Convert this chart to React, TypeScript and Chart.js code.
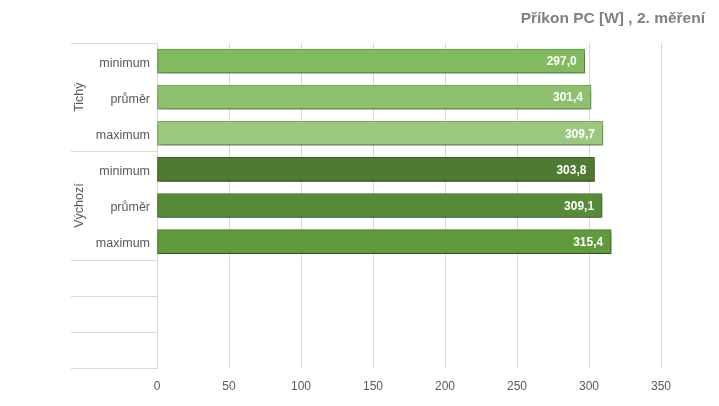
import React, { useEffect, useRef } from "react";
import { Chart, registerables } from "chart.js";

Chart.register(...registerables);

const title = "Příkon PC [W] , 2. měření";
const categories = ["minimum", "průměr", "maximum", "minimum", "průměr", "maximum", "", "", ""];
const groups = ["Tichý", "Tichý", "Tichý", "Výchozí", "Výchozí", "Výchozí", "", "", ""];
const values: (number | null)[] = [297.0, 301.4, 309.7, 303.8, 309.1, 315.4, null, null, null];
const barColors = ["#82ba60", "#8dc16e", "#9ac87e", "#4f7a31", "#588b37", "#5f9a3b", "#82ba60", "#82ba60", "#82ba60"];
const borderColors = ["#679b48", "#70a553", "#7cad62", "#3c6024", "#44702a", "#4b7e2d", "#679b48", "#679b48", "#679b48"];
const xTicksMax = 350;
const xStep = 50;

const GRID = "#d9d9d9";
const TEXT = "#595959";
const FONT = "'Liberation Sans', Arial, sans-serif";

const shadowPlugin = {
  id: "barShadow",
  beforeDatasetDraw(chart: any) {
    const ctx = chart.ctx;
    ctx.save();
    ctx.shadowColor = "rgba(0,0,0,0.45)";
    ctx.shadowBlur = 5;
    ctx.shadowOffsetX = 1;
    ctx.shadowOffsetY = 3;
  },
  afterDatasetDraw(chart: any) {
    chart.ctx.restore();
  },
};

const labelsPlugin = {
  id: "valueLabels",
  afterDatasetsDraw(chart: any) {
    const ctx = chart.ctx;
    const meta = chart.getDatasetMeta(0);
    ctx.save();
    ctx.font = `bold 12px ${FONT}`;
    ctx.fillStyle = "#ffffff";
    ctx.textAlign = "right";
    ctx.textBaseline = "middle";
    meta.data.forEach((el: any, i: number) => {
      const v = values[i];
      if (v == null) return;
      ctx.fillText(v.toFixed(1).replace(".", ","), el.x - 8, el.y + 1);
    });
    ctx.restore();
  },
};

const groupAxisPlugin = {
  id: "groupAxis",
  afterDraw(chart: any) {
    const ctx = chart.ctx;
    const y = chart.scales.y;
    const n = categories.length;
    const step = (y.bottom - y.top) / n;
    const lineLeft = 71;
    const right = chart.chartArea.left;
    ctx.save();
    ctx.strokeStyle = GRID;
    ctx.lineWidth = 1;
    const drawLine = (py: number) => {
      const yy = Math.round(py) + 0.5;
      ctx.beginPath();
      ctx.moveTo(lineLeft, yy);
      ctx.lineTo(right, yy);
      ctx.stroke();
    };
    drawLine(y.top);
    let start = 0;
    for (let i = 1; i <= n; i++) {
      if (i === n || groups[i] !== groups[start] || groups[i] === "") {
        const top = y.getPixelForValue(start) - step / 2;
        const bottom = y.getPixelForValue(i - 1) + step / 2;
        drawLine(bottom);
        const label = groups[start];
        if (label) {
          ctx.save();
          ctx.translate(80, (top + bottom) / 2);
          ctx.rotate(-Math.PI / 2);
          ctx.font = `12.5px ${FONT}`;
          ctx.fillStyle = TEXT;
          ctx.textAlign = "center";
          ctx.textBaseline = "middle";
          ctx.fillText(label, 0, 0);
          ctx.restore();
        }
        start = i;
      }
    }
    ctx.font = `bold 15.5px ${FONT}`;
    ctx.fillStyle = "#808080";
    ctx.textAlign = "right";
    ctx.textBaseline = "middle";
    ctx.fillText(title, chart.width - 14, 19);
    ctx.restore();
  },
};

export default function App() {
  const ref = useRef<HTMLCanvasElement | null>(null);
  useEffect(() => {
    if (!ref.current) return;
    const chart = new Chart(ref.current, {
      type: "bar",
      data: {
        labels: categories,
        datasets: [
          {
            data: values,
            backgroundColor: barColors,
            borderColor: borderColors,
            borderWidth: 1,
            borderSkipped: false,
            barThickness: 24,
          },
        ],
      },
      options: {
        indexAxis: "y",
        animation: false,
        responsive: true,
        maintainAspectRatio: false,
        layout: { padding: { top: 43, right: 58, left: 0, bottom: 0 } },
        plugins: {
          legend: { display: false },
          tooltip: { enabled: false },
          title: { display: false },
        },
        scales: {
          x: {
            min: 0,
            max: xTicksMax,
            ticks: {
              stepSize: xStep,
              color: TEXT,
              font: { size: 12, family: FONT },
              padding: 11,
            },
            grid: { color: GRID, drawTicks: false },
            border: { display: false },
            afterFit: (scale: any) => {
              scale.height = 38;
            },
          },
          y: {
            type: "category",
            offset: true,
            ticks: {
              color: TEXT,
              font: { size: 12.5, family: FONT },
              padding: 7,
              labelOffset: 2,
              autoSkip: false,
            },
            grid: { display: false, drawTicks: false },
            border: { display: true, color: GRID },
            afterFit: (scale: any) => {
              scale.width = 157;
            },
          },
        },
      },
      plugins: [shadowPlugin, labelsPlugin, groupAxisPlugin],
    } as any);
    return () => chart.destroy();
  }, []);
  return (
    <div style={{ position: "fixed", left: 0, top: 0, width: 719, height: 406, background: "#fff" }}>
      <canvas ref={ref} />
    </div>
  );
}
